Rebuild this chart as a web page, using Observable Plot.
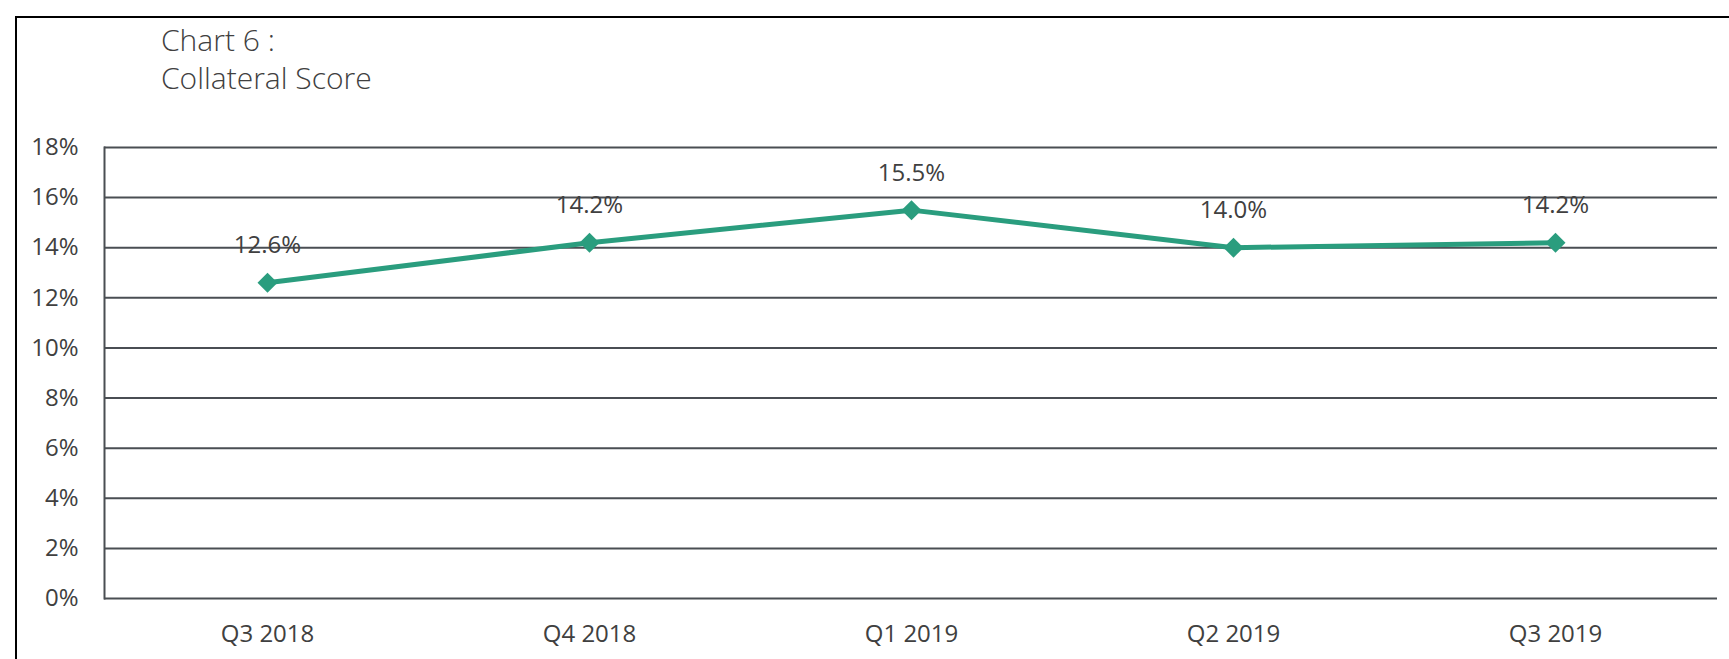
<!DOCTYPE html>
<html>
<head>
<meta charset="utf-8">
<script src="https://cdn.jsdelivr.net/npm/d3@7"></script>
<script src="https://cdn.jsdelivr.net/npm/@observablehq/plot@0.6"></script>
<style>
  html, body { margin: 0; padding: 0; background: #fff; }
  #wrap { position: relative; width: 1729px; height: 659px; overflow: hidden; }
  #border { position: absolute; left: 15px; top: 16px; width: 1800px; height: 800px;
            border-left: 2px solid #000; border-top: 2px solid #000; box-sizing: border-box; }
  #title { position: absolute; left: 161px; top: 21px; font-family: "Open Sans", sans-serif; font-weight: 300;
           font-size: 30px; line-height: 38px; color: #404040; }
  #chart { position: absolute; left: 0; top: 110px; }
</style>
</head>
<body>
<div id="wrap">
  <div id="border"></div>
  <div id="title">Chart 6 :<br>Collateral Score</div>
  <div id="chart"></div>
</div>
<script>
const quarters = ["Q3 2018", "Q4 2018", "Q1 2019", "Q2 2019", "Q3 2019"];
const scores = [12.6, 14.2, 15.5, 14.0, 14.2];
const yTicks = [0, 2, 4, 6, 8, 10, 12, 14, 16, 18];

const data = quarters.map((q, i) => ({q, v: scores[i]}));
const ink = "#404040";
const grid = "#4a4e53";
const teal = "#2a9d7e";

const plot = Plot.plot({
  width: 1729,
  height: 549,
  marginLeft: 104,
  marginRight: 12,
  marginTop: 37,
  marginBottom: 61,
  style: {fontFamily: "'Open Sans', sans-serif", fontSize: "24px", color: ink, background: "transparent"},
  x: {type: "point", domain: quarters, padding: 0.5, label: null},
  y: {domain: [0, 18], label: null},
  marks: [
    Plot.ruleY(yTicks, {stroke: grid, strokeWidth: 2}),
    Plot.frame({anchor: "left", stroke: grid, strokeWidth: 2}),
    Plot.axisY(yTicks, {tickSize: 0, tickPadding: 26, tickFormat: d => d + "%", fontSize: 24, fill: ink, label: null}),
    Plot.axisX({tickSize: 0, tickPadding: 26, fontSize: 24, fill: ink, label: null}),
    Plot.line(data, {x: "q", y: "v", stroke: teal, strokeWidth: 5}),
    Plot.dot(data, {x: "q", y: "v", symbol: "diamond2", r: 9, fill: teal, stroke: "none"}),
    Plot.text(data, {x: "q", y: "v", text: d => d.v.toFixed(1) + "%", dy: -37, fontSize: 24, fill: ink})
  ]
});
document.getElementById("chart").appendChild(plot);
</script>
</body>
</html>
